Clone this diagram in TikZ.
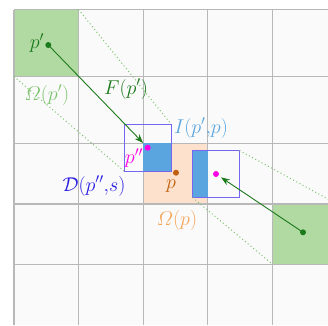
\RequirePackage{fix-cm}
\documentclass[tikz,border=0pt]{standalone}
\usepackage{amsmath}
\usetikzlibrary{arrows.meta}
\definecolor{cellbg}{HTML}{FAFAFA}
\definecolor{gridgray}{HTML}{B8B8B8}
\definecolor{greenfill}{HTML}{B1D9A2}
\definecolor{darkgreen}{HTML}{1B7A1B}
\definecolor{lightgreen}{HTML}{7CC46E}
\definecolor{orangefill}{HTML}{FDE1CC}
\definecolor{brownp}{HTML}{C0600F}
\definecolor{lightorange}{HTML}{F5A65B}
\definecolor{bluefill}{HTML}{5AA5DF}
\definecolor{boxpurple}{HTML}{7466EE}
\definecolor{dblue}{HTML}{2B1FE0}
\definecolor{magentap}{HTML}{FF00E6}
\tikzset{
  gridline/.style={draw=gridgray, line width=1.2pt},
  pbox/.style={draw=boxpurple, line width=1.3pt, minimum width=47pt, minimum height=47pt, inner sep=0pt, outer sep=0pt},
  tube/.style={draw=lightgreen, line width=1pt, dash pattern=on 1pt off 2.6pt},
  flow/.style={draw=darkgreen, line width=0.9pt, -{Stealth[length=9pt,width=6.5pt]}},
  dotpt/.style={circle, inner sep=0pt, minimum size=6pt},
  lab/.style={font=\fontsize{20}{22}\selectfont, inner sep=0pt}
}
\begin{document}
\begin{tikzpicture}[x=1pt,y=-1pt]
\useasboundingbox (0,0) rectangle (328,325);
\clip (0,0) rectangle (328,325);
% cells
\fill[cellbg] (14,9.5) rectangle (328,325);
\fill[greenfill] (14,9.5) rectangle (78.5,76.5);
\fill[greenfill] (272.5,204) rectangle (337,264.3);
\fill[orangefill] (143.3,143.3) rectangle (207.8,204);
% grid
\foreach \x in {14,78.5,143.3,207.8,272.5} \draw[gridline] (\x,9.5) -- (\x,325);
\foreach \y in {9.5,76.5,143.3,204,264.3} \draw[gridline] (14,\y) -- (328,\y);
% points
\coordinate (ppr) at (48.3,45);
\coordinate (ppp) at (147.7,147.7);
\coordinate (pq) at (216,174);
\coordinate (pbr) at (303,232.3);
\coordinate (pp) at (176,172.7);
% overlap fills
\fill[bluefill] (143.3,143.3) rectangle (171.2,171.2);
\fill[bluefill] (192.5,150.5) rectangle (207.8,197.5);
% boxes
\node[pbox] (lbox) at (ppp) {};
\node[pbox] (rbox) at (pq) {};
% tube lines
\coordinate (tlTR) at (78.5,9.5);
\coordinate (tlBL) at (14,76.5);
\coordinate (brTR) at (337,204);
\coordinate (brBL) at (272.5,264.3);
\draw[tube] (tlTR) -- (lbox.north east);
\draw[tube] (tlBL) -- (lbox.south west);
\draw[tube] (rbox.north east) -- (brTR);
\draw[tube] (rbox.south west) -- (brBL);
% flows
\draw[flow, shorten >=6.5pt] (ppr) -- (ppp);
\draw[flow, shorten >=6pt] (pbr) -- (pq);
% dots
\node[dotpt, fill=darkgreen] (dpr) at (ppr) {};
\node[dotpt, fill=darkgreen] (dbr) at (pbr) {};
\node[dotpt, fill=magentap] (dpp) at (ppp) {};
\node[dotpt, fill=magentap] (dq) at (pq) {};
\node[dotpt, fill=brownp] (dp) at (pp) {};
% labels
\node[lab, text=darkgreen] (lpr) at (37,43) {$p'$};
\node[lab, text=darkgreen] (lF) at (126,89) {$F(p')$};
\node[lab, text=lightgreen] (lOmr) at (47,95) {$\varOmega(p')$};
\node[lab, text=bluefill] (lI) at (201,128) {$I(p'{,}p)$};
\node[lab, text=magentap] (lpp) at (134,158) {$p''$};
\node[lab, text=dblue] (lD) at (94,186) {$\mathcal{D}(p''{,}s)$};
\node[lab, text=brownp] (lp) at (171,186) {$p$};
\node[lab, text=lightorange] (lOm) at (177,220) {$\varOmega(p)$};
\end{tikzpicture}
\end{document}
